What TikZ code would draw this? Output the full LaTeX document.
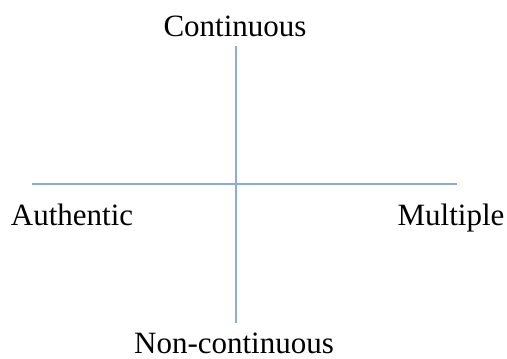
\documentclass[tikz,border=0pt]{standalone}
\usepackage{fontspec}
\setmainfont{Liberation Serif}
\definecolor{axisblue}{RGB}{140,172,214}
\begin{document}
\begin{tikzpicture}[x=1pt,y=-1pt,
  axis/.style={draw=axisblue,line width=1.2pt},
  lbl/.style={font=\fontsize{31}{31}\selectfont,inner sep=0pt,anchor=base}]
\useasboundingbox (0,0) rectangle (507,359);
\coordinate (top) at (236,46);
\coordinate (bot) at (236,323);
\coordinate (left) at (32,184);
\coordinate (right) at (457,184);
\draw[axis] (top) -- (bot);
\draw[axis] (left) -- (right);
\node[lbl] (cont) at (235,36) {Continuous};
\node[lbl] (auth) at (72,225) {Authentic};
\node[lbl] (mult) at (451,225) {Multiple};
\node[lbl] (noncont) at (234,353) {Non-continuous};
\end{tikzpicture}
\end{document}
